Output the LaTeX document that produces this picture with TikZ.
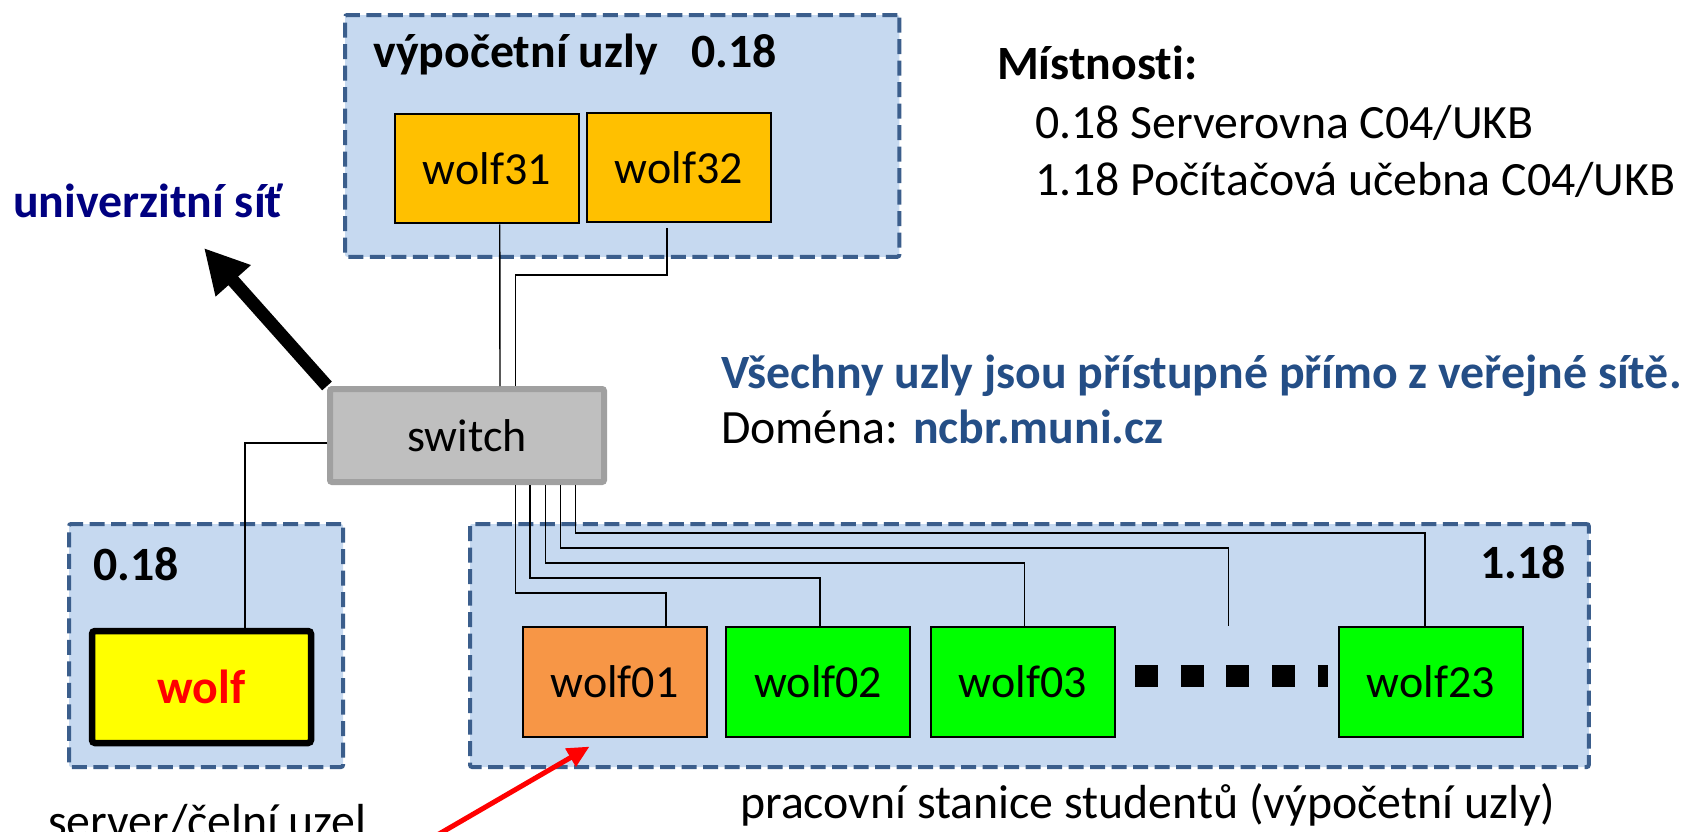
\documentclass[tikz,border=0pt]{standalone}
\usepackage{fontspec}
\setmainfont{Carlito}[Ligatures=NoCommon]
\usetikzlibrary{arrows.meta}
\definecolor{roomfill}{RGB}{198,217,240}
\definecolor{roomline}{RGB}{59,94,140}
\definecolor{nodeorange}{RGB}{255,192,0}
\definecolor{wsorange}{RGB}{247,150,70}
\definecolor{wsgreen}{RGB}{0,255,0}
\definecolor{srvyellow}{RGB}{255,255,0}
\definecolor{swfill}{RGB}{191,191,191}
\definecolor{swline}{RGB}{160,160,160}
\definecolor{netnavy}{RGB}{0,0,128}
\definecolor{infoblue}{RGB}{36,78,134}
\newcommand\diafont{\fontsize{46}{57}\selectfont}
\newcommand\labfont{\fontsize{47.8}{58}\selectfont}
\begin{document}
\begin{tikzpicture}[x=1pt,y=-1pt,
  room/.style={draw=roomline, fill=roomfill, line width=4pt, dash pattern=on 15pt off 6.5pt, rounded corners=2pt, inner sep=0pt},
  pcbox/.style={draw=black, line width=2pt, minimum width=184pt, minimum height=109.5pt, inner sep=0pt, font=\diafont},
  txt/.style={anchor=base west, inner sep=0pt, font=\labfont},
  btxt/.style={anchor=base west, inner sep=0pt, font=\labfont\bfseries},
  wire/.style={draw=black, line width=1.4pt},
]
\useasboundingbox (0,0) rectangle (1683,832);
\clip (0,0) rectangle (1683,832);

% rooms
\node[room, minimum width=554.3pt, minimum height=241.7pt] (rtop) at (622.2,135.9) {};
\node[room, minimum width=274pt, minimum height=243pt] (rleft) at (206,645.5) {};
\node[room, minimum width=1118.7pt, minimum height=243pt] (rright) at (1029.4,645.5) {};

% labels
\node[btxt] (ltop) at (373,68) {výpočetní uzly\hspace{34pt}0.18};
\node[btxt] (lleft) at (93,580) {0.18};
\node[btxt, anchor=base east] (lright) at (1566,578) {1.18};
\node[btxt, text=netnavy] (univ) at (13,217) {univerzitní síť};
\node[btxt] (mist) at (997,80) {Místnosti:};
\node[txt] (m1) at (1035,138.3) {0.18 Serverovna C04/UKB};
\node[txt] (m2) at (1035,195) {1.18 Počítačová učebna C04/UKB};
\node[btxt, text=infoblue] (vse) at (721,388.3) {Všechny uzly jsou přístupné přímo z veřejné sítě.};
\node[txt] (dom) at (721,443) {Doména: \textbf{\textcolor{infoblue}{ncbr.muni.cz}}};
\node[txt] (srvlab) at (48,837) {server/čelní uzel};
\node[txt] (stulab) at (740,818) {pracovní stanice studentů (výpočetní uzly)};

% computers
\node[pcbox, fill=nodeorange] (w31) at (486.75,168.5) {wolf31};
\node[pcbox, fill=nodeorange] (w32) at (678.85,167.4) {wolf32};
\node[pcbox, fill=wsorange] (w01) at (614.5,681.85) {wolf01};
\node[pcbox, fill=wsgreen] (w02) at (818.35,681.85) {wolf02};
\node[pcbox, fill=wsgreen] (w03) at (1022.8,681.85) {wolf03};
\node[pcbox, fill=wsgreen] (w23) at (1430.8,681.85) {wolf23};
\node[draw=black, fill=srvyellow, line width=6.5pt, rounded corners=3pt, minimum width=219pt, minimum height=112pt, inner sep=0pt, font=\labfont\bfseries, text=red] (srv) at (201.5,687) {wolf};

% switch
\node[draw=swline, fill=swfill, line width=6pt, rounded corners=2pt, minimum width=274pt, minimum height=93pt, inner sep=0pt, font=\diafont] (sw) at (467,435.5) {switch};

% dots between wolf03 and wolf23
\draw[line width=22pt, dash pattern=on 23pt off 22.6pt] ([xshift=19.4pt,yshift=5.9pt]w03.east) -- ([xshift=-9.6pt,yshift=5.9pt]w23.west);

% wires
\draw[wire] ([xshift=106pt]w31.south west) -- ([xshift=173pt]sw.north west);
\draw[wire] ([xshift=81pt,yshift=-5pt]w32.south west) |- ([xshift=188.5pt,yshift=111pt]sw.north west) -- ([xshift=188.5pt]sw.north west);
\draw[wire] ([yshift=-7.5pt]sw.west) -| ([xshift=43.5pt]srv.north);
\draw[wire] ([xshift=188.5pt]sw.south west) |- ([xshift=144.5pt,yshift=33.3pt]w01.north west) -- ([xshift=144.5pt]w01.north west);
\draw[wire] ([xshift=203pt]sw.south west) |- ([xshift=1.65pt,yshift=48.3pt]w02.north) -- ([xshift=1.65pt]w02.north);
\draw[wire] ([xshift=218.5pt]sw.south west) |- ([xshift=1.7pt,yshift=63.3pt]w03.north) -- ([xshift=1.7pt]w03.north);
\draw[wire] ([xshift=233.5pt]sw.south west) |- ([xshift=-109.6pt,yshift=78.3pt]w23.north west) -- ([xshift=-109.6pt]w23.north west);
\draw[wire] ([xshift=248.5pt]sw.south west) |- ([xshift=-5.8pt,yshift=93.3pt]w23.north) -- ([xshift=-5.8pt]w23.north);

% arrows
\coordinate (nettip) at (204,248);
\draw[line width=13pt, -{Triangle[length=44pt,width=44pt]}] (sw.north west) -- (nettip);
\coordinate (redstart) at (377,870);
\draw[red, line width=5pt, -{Triangle[length=22pt,width=20pt]}] (redstart) -- ([xshift=68pt,yshift=-9pt]w01.south west);
\end{tikzpicture}
\end{document}
